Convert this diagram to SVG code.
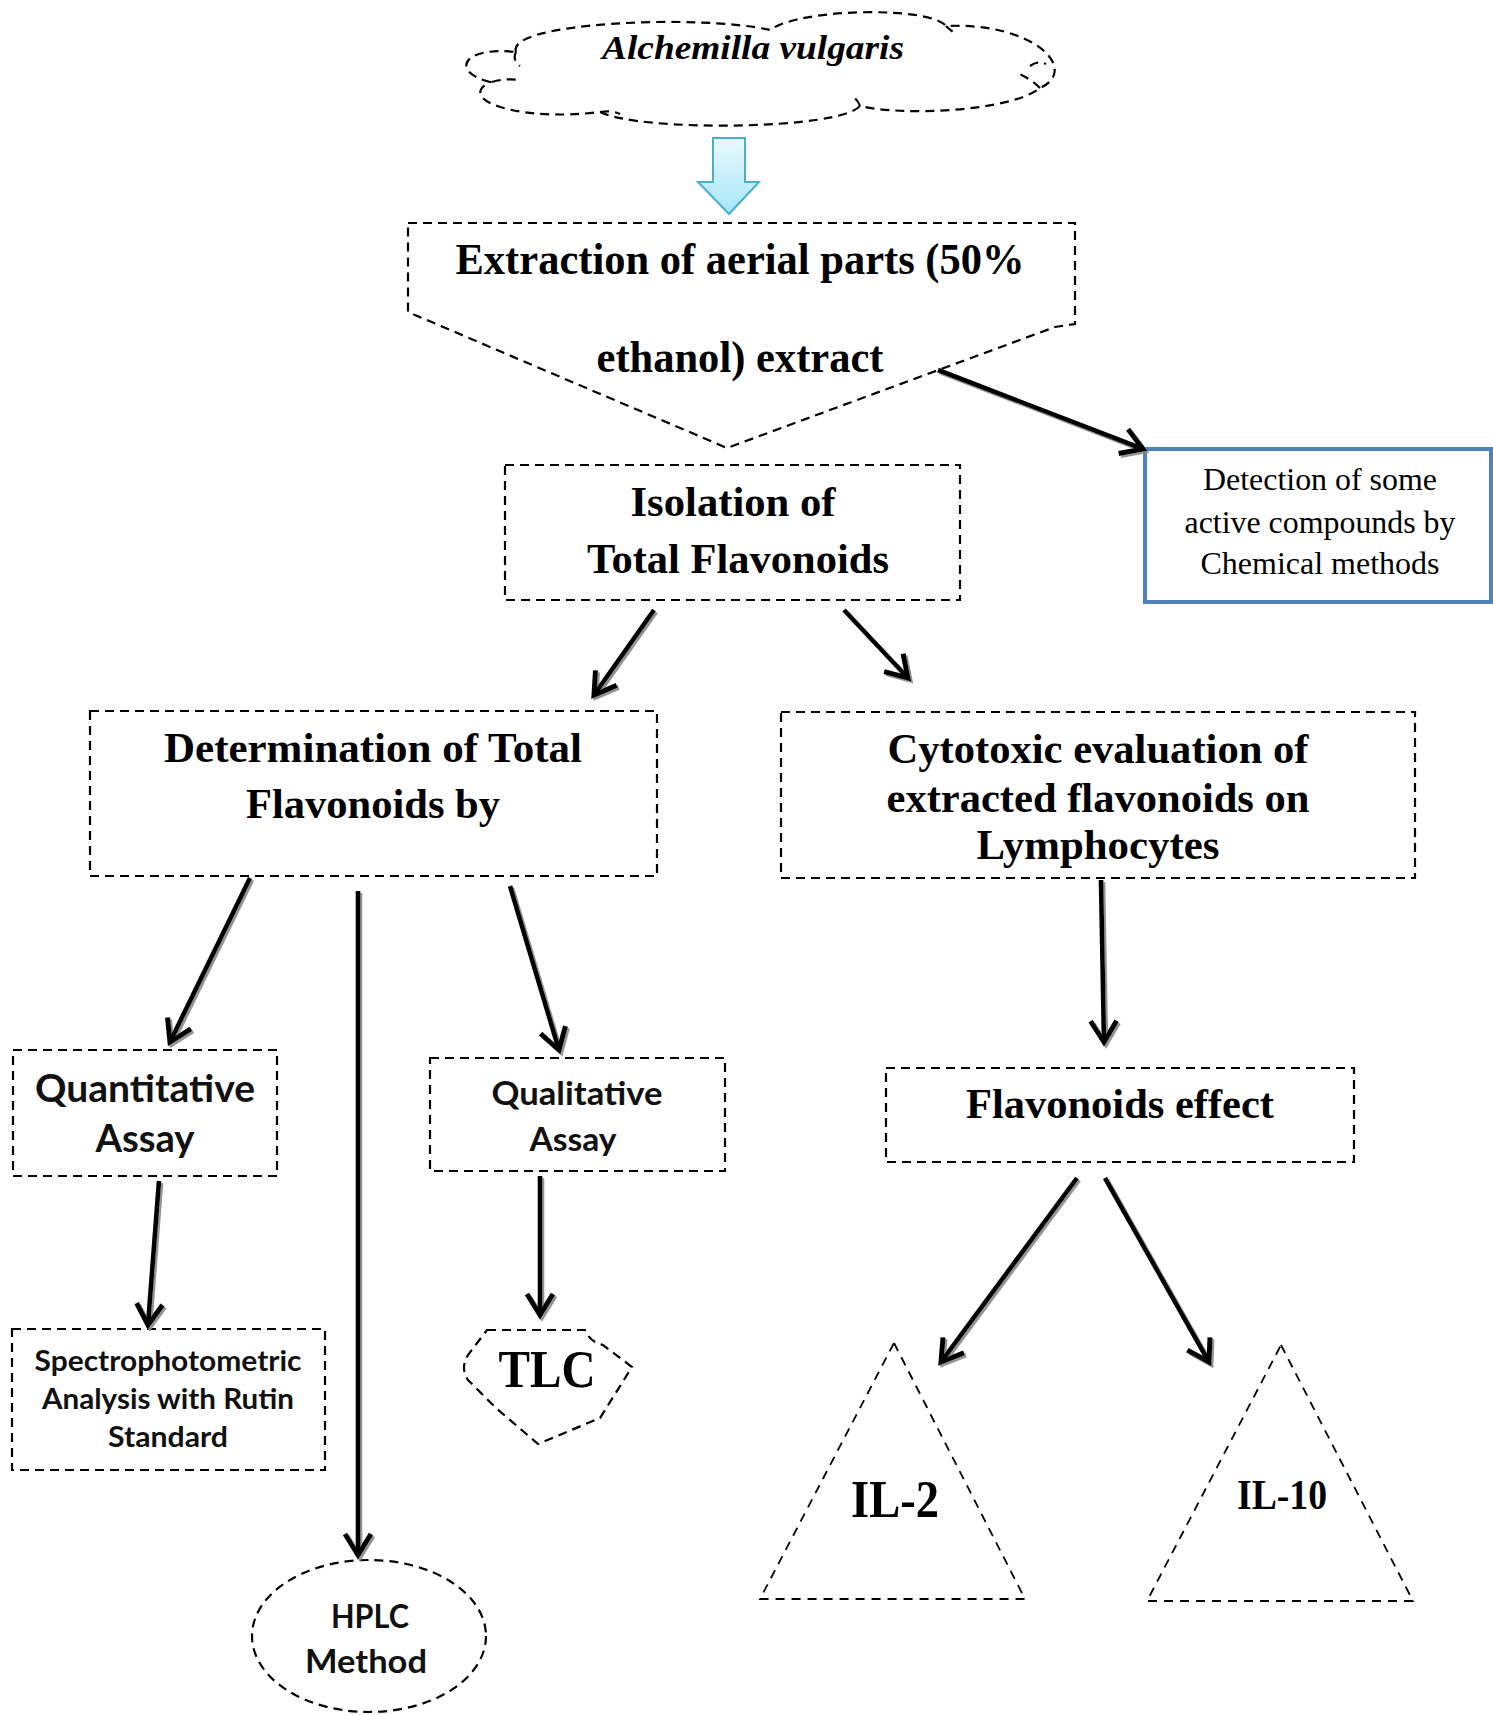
<svg xmlns="http://www.w3.org/2000/svg" width="1493" height="1715" viewBox="0 0 1493 1715">
<style>
.bg{fill:#fff}
.dash{fill:none;stroke:#000;stroke-width:2.2;stroke-dasharray:9 6}
.dashthin{fill:none;stroke:#000;stroke-width:1.8;stroke-dasharray:9 7}
.serifb{font-family:"Liberation Serif","Times New Roman",serif;font-weight:bold;fill:#000;text-anchor:middle}
.serif{font-family:"Liberation Serif","Times New Roman",serif;fill:#000;text-anchor:middle}
.sansb{font-family:Lato,"Liberation Sans",sans-serif;font-weight:bold;fill:#111;text-anchor:middle}
.conn{fill:none;stroke:#000;stroke-width:4.6;marker-end:url(#arr)}
</style>
<defs>
<marker id="arr" markerUnits="userSpaceOnUse" markerWidth="34" markerHeight="34" viewBox="0 0 34 34" refX="27" refY="17" orient="auto">
<path d="M6,4 L27,17 L6,30" fill="none" stroke="#000" stroke-width="5" stroke-linejoin="miter"/>
</marker>
<filter id="sh" x="-10%" y="-10%" width="120%" height="120%">
<feDropShadow dx="2" dy="2" stdDeviation="0.6" flood-color="#888" flood-opacity="0.9"/>
</filter>
<linearGradient id="bluegrad" x1="0" y1="0" x2="0" y2="1">
<stop offset="0" stop-color="#eafaff"/>
<stop offset="1" stop-color="#a6e6f8"/>
</linearGradient>
</defs>
<rect class="bg" x="0" y="0" width="1493" height="1715"/>

<g id="node-alchemilla">
<path class="dash" d="M516,52 C505,22 700,14 770,30 C800,8 930,6 946,26 C1035,22 1080,70 1040,88 C1010,112 900,116 860,106 C840,130 640,132 600,112 C520,122 455,100 490,82 C450,72 462,46 516,52 Z"/>
<path class="dash" d="M516,52 Q512,60 520,66 M492,82 Q505,78 520,80 M946,26 Q950,30 956,34 M1030,66 Q1038,60 1046,64 M1040,88 Q1030,78 1015,72 M860,106 Q858,100 852,96 M600,112 Q612,110 620,114"/>
<text class="serifb" x="753" y="59" font-size="34" font-style="italic" textLength="302" lengthAdjust="spacingAndGlyphs">Alchemilla vulgaris</text>
</g>

<g id="node-bluearrow">
<path d="M713,138 L745,138 L745,182 L759,182 L729,214 L698,182 L713,182 Z" fill="url(#bluegrad)" stroke="#4aaecc" stroke-width="2"/>
</g>

<g id="node-extraction">
<path class="dash" d="M408,223 L1075,223 L1075,324 L1055,327 L727,448 L408,312 Z"/>
<text class="serifb" x="740" y="274" font-size="44" textLength="569" lengthAdjust="spacingAndGlyphs">Extraction of aerial parts (50%</text>
<text class="serifb" x="740" y="372" font-size="44" textLength="287" lengthAdjust="spacingAndGlyphs">ethanol) extract</text>
</g>

<g id="node-detection">
<rect x="1145" y="449" width="346" height="153" fill="none" stroke="#4f81bd" stroke-width="4"/>
<text class="serif" x="1320" y="490" font-size="31" textLength="234" lengthAdjust="spacingAndGlyphs">Detection of some</text>
<text class="serif" x="1320" y="533" font-size="31" textLength="271" lengthAdjust="spacingAndGlyphs">active compounds by</text>
<text class="serif" x="1320" y="574" font-size="31" textLength="239" lengthAdjust="spacingAndGlyphs">Chemical methods</text>
</g>

<g id="node-isolation">
<rect class="dash" x="505" y="465" width="455" height="135"/>
<text class="serifb" x="733" y="516" font-size="42" textLength="205" lengthAdjust="spacingAndGlyphs">Isolation of</text>
<text class="serifb" x="738" y="573" font-size="42" textLength="302" lengthAdjust="spacingAndGlyphs">Total Flavonoids</text>
</g>

<g id="node-determination">
<rect class="dash" x="90" y="711" width="567" height="165"/>
<text class="serifb" x="373" y="762" font-size="42" textLength="418" lengthAdjust="spacingAndGlyphs">Determination of Total</text>
<text class="serifb" x="373" y="818" font-size="42" textLength="254" lengthAdjust="spacingAndGlyphs">Flavonoids by</text>
</g>

<g id="node-cytotoxic">
<rect class="dash" x="781" y="712" width="634" height="166"/>
<text class="serifb" x="1098" y="763" font-size="42" textLength="421" lengthAdjust="spacingAndGlyphs">Cytotoxic evaluation of</text>
<text class="serifb" x="1098" y="812" font-size="42" textLength="423" lengthAdjust="spacingAndGlyphs">extracted flavonoids on</text>
<text class="serifb" x="1098" y="859" font-size="42" textLength="243" lengthAdjust="spacingAndGlyphs">Lymphocytes</text>
</g>

<g id="node-quantitative">
<rect class="dash" x="13" y="1050" width="264" height="126"/>
<text class="sansb" x="145" y="1102" font-size="38" textLength="220" lengthAdjust="spacingAndGlyphs">Quantitative</text>
<text class="sansb" x="145" y="1152" font-size="38" textLength="99" lengthAdjust="spacingAndGlyphs">Assay</text>
</g>

<g id="node-qualitative">
<rect class="dash" x="430" y="1058" width="295" height="113"/>
<text class="sansb" x="577" y="1105" font-size="33" textLength="171" lengthAdjust="spacingAndGlyphs">Qualitative</text>
<text class="sansb" x="573" y="1151" font-size="33" textLength="87" lengthAdjust="spacingAndGlyphs">Assay</text>
</g>

<g id="node-spectro">
<rect class="dash" x="12" y="1329" width="313" height="141"/>
<text class="sansb" x="168" y="1371" font-size="28" textLength="267" lengthAdjust="spacingAndGlyphs">Spectrophotometric</text>
<text class="sansb" x="168" y="1409" font-size="28" textLength="252" lengthAdjust="spacingAndGlyphs">Analysis with Rutin</text>
<text class="sansb" x="168" y="1447" font-size="28" textLength="120" lengthAdjust="spacingAndGlyphs">Standard</text>
</g>

<g id="node-tlc">
<path class="dash" d="M487,1330 L585,1330 Q590,1342 603,1345 L632,1367 L600,1418 L538,1444 L496,1408 L468,1380 Q460,1368 468,1355 Z"/>
<text class="serifb" x="547" y="1387" font-size="52" textLength="97" lengthAdjust="spacingAndGlyphs">TLC</text>
</g>

<g id="node-hplc">
<ellipse class="dash" cx="369" cy="1636" rx="117" ry="76"/>
<text class="sansb" x="370" y="1628" font-size="32" textLength="78" lengthAdjust="spacingAndGlyphs">HPLC</text>
<text class="sansb" x="366" y="1673" font-size="32" textLength="122" lengthAdjust="spacingAndGlyphs">Method</text>
</g>

<g id="node-flavonoids-effect">
<rect class="dash" x="886" y="1068" width="468" height="94"/>
<text class="serifb" x="1120" y="1118" font-size="42" textLength="308" lengthAdjust="spacingAndGlyphs">Flavonoids effect</text>
</g>

<g id="node-il2">
<path class="dashthin" d="M894,1343 L1025,1599 L760,1599 Z"/>
<text class="serifb" x="895" y="1517" font-size="52" textLength="88" lengthAdjust="spacingAndGlyphs">IL-2</text>
</g>

<g id="node-il10">
<path class="dashthin" d="M1281,1345 L1413,1601 L1147,1601 Z"/>
<text class="serifb" x="1282" y="1509" font-size="42" textLength="90" lengthAdjust="spacingAndGlyphs">IL-10</text>
</g>

<g id="connectors" filter="url(#sh)">
<line class="conn" x1="938" y1="370" x2="1143" y2="449"/>
<line class="conn" x1="654" y1="610" x2="594" y2="695"/>
<line class="conn" x1="844" y1="610" x2="908" y2="678"/>
<line class="conn" x1="250" y1="878" x2="170" y2="1042"/>
<line class="conn" x1="358" y1="891" x2="358" y2="1555"/>
<line class="conn" x1="510" y1="886" x2="559" y2="1050"/>
<line class="conn" x1="1101" y1="880" x2="1104" y2="1042"/>
<line class="conn" x1="159" y1="1181" x2="148" y2="1325"/>
<line class="conn" x1="540" y1="1176" x2="540" y2="1315"/>
<line class="conn" x1="1077" y1="1178" x2="941" y2="1362"/>
<line class="conn" x1="1105" y1="1178" x2="1209" y2="1362"/>
</g>
</svg>
